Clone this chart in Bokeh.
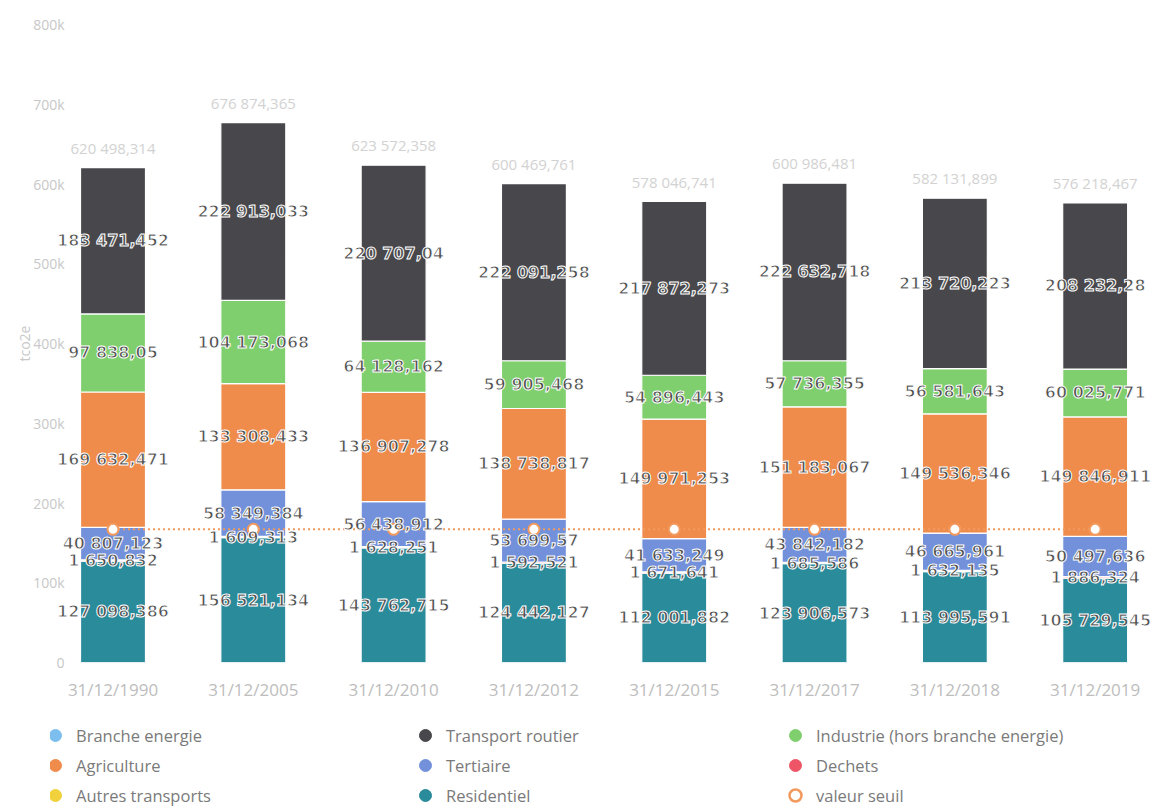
import numpy as np
from bokeh.plotting import figure
from bokeh.layouts import column
from bokeh.models import (ColumnDataSource, Range1d, Legend, LegendItem,
                          FixedTicker, NumeralTickFormatter)
from bokeh.core.properties import value
from bokeh.embed import file_html
from bokeh.resources import INLINE

# ---------------- data (tCO2e) ----------------
dates = ["31/12/1990", "31/12/2005", "31/12/2010", "31/12/2012",
         "31/12/2015", "31/12/2017", "31/12/2018", "31/12/2019"]
residentiel = [127098.386, 156521.134, 143762.715, 124442.127,
               112001.882, 123906.573, 113995.591, 105729.545]
dechets = [1650.832, 1609.313, 1628.251, 1592.521,
           1671.641, 1685.586, 1632.135, 1886.324]
tertiaire = [40807.123, 58349.384, 56438.912, 53699.57,
             41633.249, 43842.182, 46665.961, 50497.636]
agriculture = [169632.471, 133308.433, 136907.278, 138738.817,
               149971.253, 151183.067, 149536.346, 149846.911]
industrie = [97838.05, 104173.068, 64128.162, 59905.468,
             54896.443, 57736.355, 56581.643, 60025.771]
transport_routier = [183471.452, 222913.033, 220707.04, 222091.258,
                     217872.273, 222632.718, 213720.223, 208232.28]
valeur_seuil = [167000, 167000, 167000, 167000,
                167000, 167000, 167000, 167000]

# ---------------- styles ----------------
C_BRANCHE = "#7cbfee"
C_TRANSPORT = "#47474c"
C_INDUSTRIE = "#80cf6f"
C_AGRI = "#ef8b4b"
C_TERT = "#7391db"
C_DECHETS = "#ee5668"
C_AUTRES = "#f1d23c"
C_RESID = "#2a8b9b"
C_SEUIL = "#f29a5e"
FONT = "Open Sans"
LABEL_FONT = "DejaVu Sans"


def fr(v):
    s = "{:,.3f}".format(v).rstrip("0").rstrip(".")
    return s.replace(",", " ").replace(".", ",")


x = list(range(len(dates)))
stack_names = ["residentiel", "dechets", "tertiaire", "agriculture",
               "industrie", "transport_routier"]
stack_colors = [C_RESID, C_DECHETS, C_TERT, C_AGRI, C_INDUSTRIE, C_TRANSPORT]
source = ColumnDataSource(dict(
    x=x, residentiel=residentiel, dechets=dechets, tertiaire=tertiaire,
    agriculture=agriculture, industrie=industrie,
    transport_routier=transport_routier, seuil=valeur_seuil))

W = 1155
p = figure(width=W, height=705, output_backend="svg", toolbar_location=None,
           x_range=Range1d(-0.4455, 7.430), y_range=Range1d(0, 800000),
           min_border_left=50, min_border_right=0, min_border_top=24,
           min_border_bottom=43)
p.outline_line_color = None
p.background_fill_color = "white"
p.border_fill_color = "white"
p.xgrid.grid_line_color = None
p.ygrid.grid_line_color = None

p.vbar_stack(stack_names, x="x", width=0.463, color=stack_colors,
             line_color="white", line_width=1.2, source=source)

# seuil line
p.line(x="x", y="seuil", source=source, line_color=C_SEUIL, line_width=2,
       line_dash="2 3")
p.scatter(x="x", y="seuil", source=source, size=11, fill_color="white",
          line_color=C_SEUIL, line_width=2)

# data labels
arr = np.array([residentiel, dechets, tertiaire, agriculture, industrie,
                transport_routier])
tops = np.cumsum(arr, axis=0)
bottoms = tops - arr
lx, ly, lt = [], [], []
for s in range(arr.shape[0]):
    for i in range(arr.shape[1]):
        lx.append(x[i])
        ly.append((tops[s, i] + bottoms[s, i]) / 2)
        lt.append(fr(arr[s, i]))
lab = ColumnDataSource(dict(x=lx, y=ly, t=lt))
p.text(x="x", y="y", text="t", source=lab, text_align="center",
       text_baseline="middle", text_font=value(LABEL_FONT),
       text_font_size="16px", text_font_style="bold", text_color="#4d4d4d",
       text_outline_color="white")

# totals
totals = tops[-1]
tot = ColumnDataSource(dict(x=x, y=list(totals),
                            t=[fr(round(v, 3)) for v in totals]))
p.text(x="x", y="y", text="t", source=tot, text_align="center",
       text_baseline="bottom", y_offset=-10, text_font=value(FONT),
       text_font_size="15px", text_color="#d2d2d2")

# axes
p.xaxis.ticker = FixedTicker(ticks=x)
p.xaxis.major_label_overrides = {i: d for i, d in enumerate(dates)}
p.xaxis.major_label_text_font = FONT
p.xaxis.major_label_text_font_size = "17px"
p.xaxis.major_label_text_color = "#bdbdbd"
p.xaxis.major_label_standoff = 9
p.xaxis.axis_line_color = None
p.xaxis.major_tick_line_color = None
p.xaxis.minor_tick_line_color = None

p.yaxis.ticker = FixedTicker(ticks=[0, 100000, 200000, 300000, 400000,
                                    500000, 600000, 700000, 800000])
p.yaxis.formatter = NumeralTickFormatter(format="0a")
p.yaxis.major_label_text_font = FONT
p.yaxis.major_label_text_font_size = "14px"
p.yaxis.major_label_text_color = "#c8c8c8"
p.yaxis.major_label_standoff = -20
p.yaxis.axis_label = "tco2e"
p.yaxis.axis_label_text_font = FONT
p.yaxis.axis_label_text_font_size = "14px"
p.yaxis.axis_label_text_font_style = "normal"
p.yaxis.axis_label_text_color = "#c8c8c8"
p.yaxis.axis_label_standoff = -4
p.yaxis.axis_line_color = None
p.yaxis.major_tick_line_color = None
p.yaxis.minor_tick_line_color = None

# legend (own figure below the chart)
lf = figure(width=W, height=102, output_backend="svg", toolbar_location=None,
            x_range=Range1d(0, 1), y_range=Range1d(0, 1),
            x_axis_location=None, y_axis_location=None,
            min_border_left=0, min_border_right=0, min_border_top=0,
            min_border_bottom=0)
lf.outline_line_color = None
lf.xgrid.grid_line_color = None
lf.ygrid.grid_line_color = None

leg_entries = [("Branche energie", C_BRANCHE, C_BRANCHE),
               ("Transport routier", C_TRANSPORT, C_TRANSPORT),
               ("Industrie (hors branche energie)", C_INDUSTRIE, C_INDUSTRIE),
               ("Agriculture", C_AGRI, C_AGRI),
               ("Tertiaire", C_TERT, C_TERT),
               ("Dechets", C_DECHETS, C_DECHETS),
               ("Autres transports", C_AUTRES, C_AUTRES),
               ("Residentiel", C_RESID, C_RESID),
               ("valeur seuil", "white", C_SEUIL)]
items = []
for name, fc, lc in leg_entries:
    # one hidden point (outside the visible range) so the legend draws its glyph
    r = lf.scatter(x=[-5], y=[-5], size=14, fill_color=fc, line_color=lc,
                   line_width=2.5 if fc == "white" else 1)
    items.append(LegendItem(label=name, renderers=[r]))
legend = Legend(items=items, ncols=3, orientation="horizontal",
                location=(-10, -3), glyph_width=30, glyph_height=30,
                label_standoff=6, label_width=334, label_height=30,
                spacing=0, padding=0, margin=0,
                label_text_font=FONT, label_text_font_size="16.5px",
                label_text_color="#7a7a7a",
                background_fill_alpha=0, border_line_color=None)
lf.add_layout(legend, "center")

layout = column(p, lf, spacing=0)
open("out.html", "w").write(file_html(layout, INLINE))
